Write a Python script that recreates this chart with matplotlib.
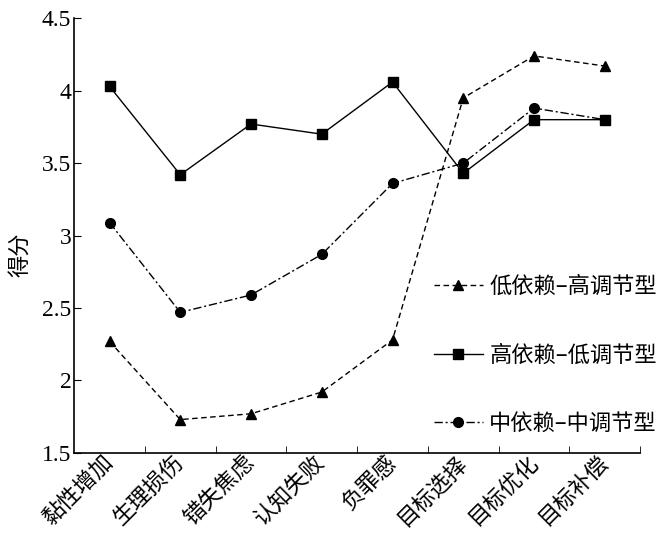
import matplotlib
matplotlib.use("Agg")
import matplotlib.pyplot as plt
from matplotlib.ticker import FixedLocator

categories = ["黏性增加", "生理损伤", "错失焦虑", "认知失败", "负罪感", "目标选择", "目标优化", "目标补偿"]
low_high = [2.27, 1.73, 1.77, 1.92, 2.28, 3.95, 4.24, 4.17]
high_low = [4.03, 3.42, 3.77, 3.70, 4.06, 3.43, 3.80, 3.80]
mid_mid = [3.09, 2.47, 2.59, 2.87, 3.36, 3.50, 3.88, 3.80]
series_names = ["低依赖–高调节型", "高依赖–低调节型", "中依赖–中调节型"]
yticks = [1.5, 2, 2.5, 3, 3.5, 4, 4.5]
ytick_labels = ["1.5", "2", "2.5", "3", "3.5", "4", "4.5"]

plt.rcParams["font.family"] = ["Liberation Serif", "Noto Sans CJK SC", "DejaVu Sans"]
cjk = ["Noto Sans CJK SC", "Liberation Serif", "DejaVu Sans"]

fig = plt.figure(figsize=(6.62, 5.53), dpi=100)
ax = fig.add_axes([0.112, 0.181, 0.855, 0.786])

x = list(range(len(categories)))
ax.plot(x, low_high, color="black", linestyle=(0, (4, 2.5)), linewidth=1.0,
        marker="^", markersize=7.5, label=series_names[0])
ax.plot(x, high_low, color="black", linestyle="-", linewidth=1.0,
        marker="s", markersize=7, label=series_names[1])
ax.plot(x, mid_mid, color="black", linestyle=(0, (6, 2, 1.5, 2)), linewidth=1.0,
        marker="o", markersize=7, label=series_names[2])

ax.set_xlim(-0.5, len(categories) - 0.5)
ax.set_ylim(1.5, 4.5)
ax.spines["top"].set_visible(False)
ax.spines["right"].set_visible(False)
ax.spines["left"].set_linewidth(1.2)
ax.spines["bottom"].set_linewidth(1.2)

ax.tick_params(axis="y", direction="in", length=5, pad=2)
ax.tick_params(axis="x", which="major", length=0, pad=4)
ax.tick_params(axis="x", which="minor", direction="in", length=5)
ax.set_yticks(yticks)
ax.set_yticklabels(ytick_labels)
for lbl in ax.get_yticklabels():
    lbl.set_fontfamily("Liberation Serif")
    lbl.set_fontsize(17)

ax.set_xticks(x)
ax.set_xticklabels(categories, family=cjk, fontsize=16, rotation=45,
                   ha="right", va="center", rotation_mode="anchor")
ax.xaxis.set_minor_locator(FixedLocator([i + 0.5 for i in x]))

ax.set_ylabel("得分", family=cjk, fontsize=16)
ax.yaxis.set_label_coords(-0.076, 0.455)

leg = ax.legend(loc="center left", bbox_to_anchor=(0.6, 0.225), frameon=False,
                prop={"family": cjk, "size": 16}, labelspacing=2.05,
                handlelength=2.2, handletextpad=0.3)

fig.savefig("out.png", dpi=100)
